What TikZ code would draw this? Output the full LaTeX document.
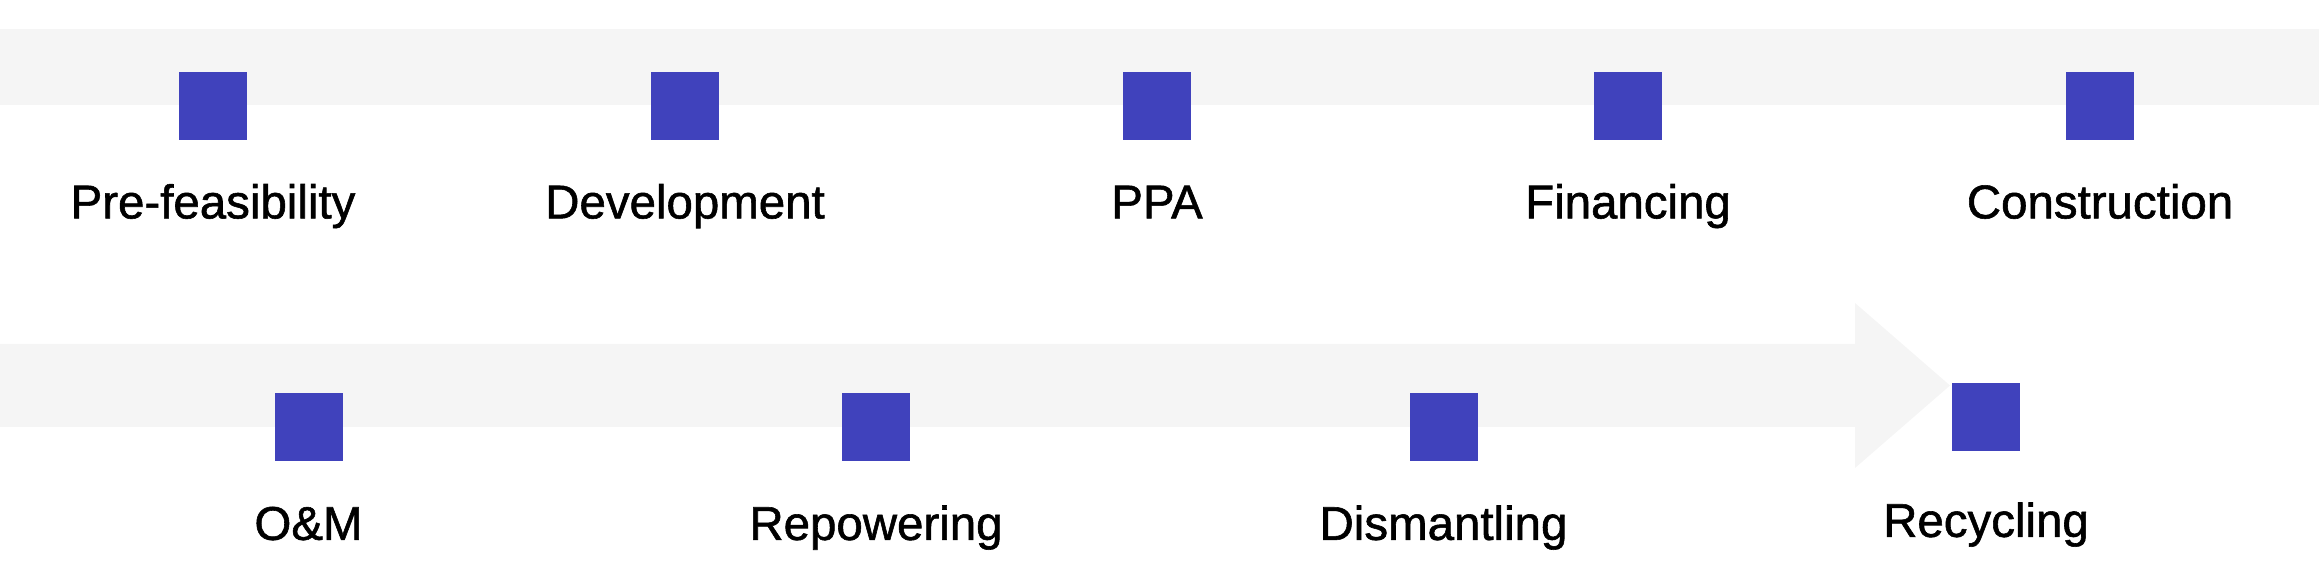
\documentclass[tikz,border=0pt]{standalone}
\usepackage{fontspec}
\newfontfamily\stagefont{Liberation Sans}[FakeBold=1.2]
\usepackage{tikz}
\usetikzlibrary{
    positioning,
    calc
}
\definecolor{stageblue}{HTML}{4042BC}
\definecolor{bandgrey}{HTML}{F5F5F5}

\begin{document}
\begin{tikzpicture}[
  band/.style={fill=bandgrey},
  stagebox/.style={fill=stageblue, minimum size=0.68cm, inner sep=0pt},
  stagetext/.style={font=\stagefont\fontsize{13.5}{16}\selectfont, inner sep=0pt,
    text height=0.34cm, text depth=0.08cm, anchor=north}]
\useasboundingbox (0,0) rectangle (23.19,-5.70);
% grey bands
\fill[band] (0,-0.29) rectangle (23.19,-1.05);
\fill[band] (0,-3.44) -- (18.55,-3.44) -- (18.55,-3.03) -- (19.50,-3.855)
  -- (18.55,-4.68) -- (18.55,-4.27) -- (0,-4.27) -- cycle;
% top row
\foreach \name/\x/\txt in {pre/2.13/Pre-feasibility, dev/6.85/Development,
    ppa/11.57/PPA, fin/16.28/Financing, con/21.00/Construction} {
  \node[stagebox] (\name) at (\x,-1.06) {};
  \node[stagetext, below=0.43cm of \name] (\name-txt) {\txt};
}
% bottom row
\foreach \name/\x/\txt in {om/3.085/{O\&M}, rep/8.76/Repowering,
    dis/14.435/Dismantling} {
  \node[stagebox] (\name) at (\x,-4.275) {};
  \node[stagetext, below=0.43cm of \name] (\name-txt) {\txt};
}
\node[stagebox] (rec) at (19.86,-4.175) {};
\node[stagetext, below=0.50cm of rec] (rec-txt) {Recycling};
\end{tikzpicture}
\end{document}
